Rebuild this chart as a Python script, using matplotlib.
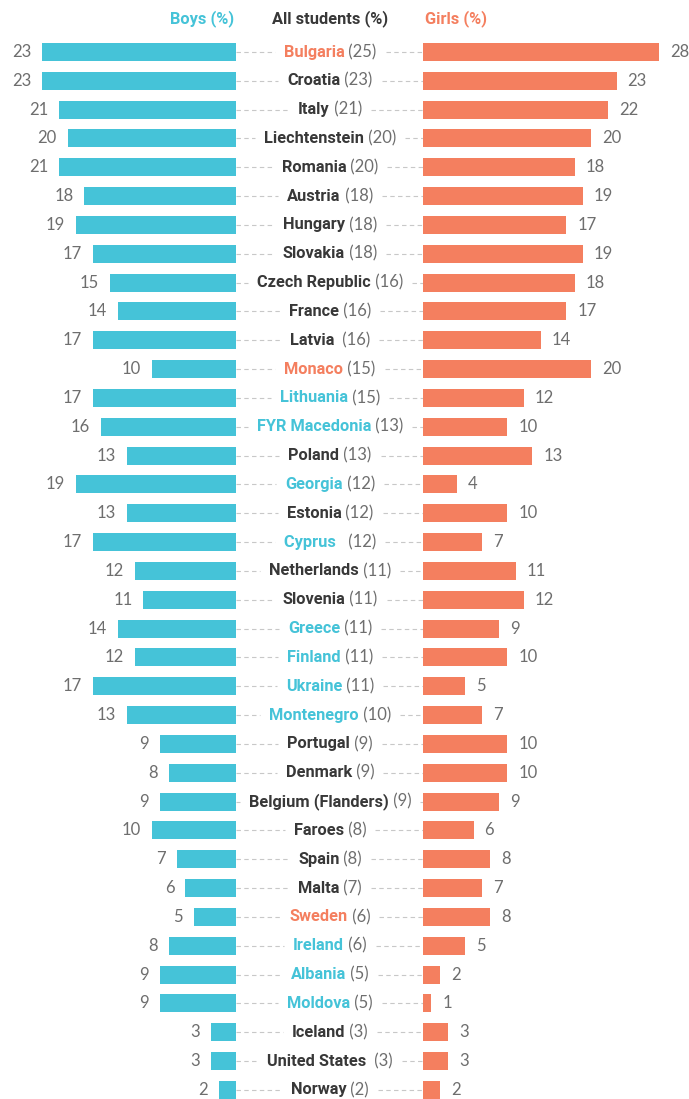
import matplotlib
matplotlib.use("Agg")
import matplotlib.pyplot as plt

countries = ["Bulgaria", "Croatia", "Italy", "Liechtenstein", "Romania", "Austria",
             "Hungary", "Slovakia", "Czech Republic", "France", "Latvia ", "Monaco",
             "Lithuania", "FYR Macedonia", "Poland", "Georgia", "Estonia", "Cyprus  ",
             "Netherlands", "Slovenia", "Greece", "Finland", "Ukraine", "Montenegro",
             "Portugal", "Denmark", "Belgium (Flanders)", "Faroes", "Spain", "Malta",
             "Sweden", "Ireland", "Albania", "Moldova", "Iceland", "United States ",
             "Norway"]
all_students = [25, 23, 21, 20, 20, 18, 18, 18, 16, 16, 16, 15, 15, 13, 13, 12, 12, 12,
                11, 11, 11, 11, 11, 10, 9, 9, 9, 8, 8, 7, 6, 6, 5, 5, 3, 3, 2]
boys = [23, 23, 21, 20, 21, 18, 19, 17, 15, 14, 17, 10, 17, 16, 13, 19, 13, 17,
        12, 11, 14, 12, 17, 13, 9, 8, 9, 10, 7, 6, 5, 8, 9, 9, 3, 3, 2]
girls = [28, 23, 22, 20, 18, 19, 17, 19, 18, 17, 14, 20, 12, 10, 13, 4, 10, 7,
         11, 12, 9, 10, 5, 7, 10, 10, 9, 6, 8, 7, 8, 5, 2, 1, 3, 3, 2]
# "g" = girls notably higher, "b" = boys notably higher, "" = neutral
highlight = ["g", "", "", "", "", "", "", "", "", "", "", "g",
             "b", "b", "", "b", "", "b", "", "", "b", "b", "b", "b",
             "", "", "", "", "", "", "g", "b", "b", "b", "", "", ""]

CYAN = "#45c3d8"
ORANGE = "#f47f5f"
DARK = "#383838"
GREY = "#6e6e6e"
DASH = "#c8c8c8"
name_color = {"g": ORANGE, "b": CYAN, "": DARK}

W, H, DPI = 689, 1099, 100
PX = 8.42            # pixels per percentage point
LEFT_EDGE = 236      # right edge of the boys bars
RIGHT_EDGE = 423     # left edge of the girls bars
TOP_ROW = 52         # centre of the first row (px from top)
STEP = 28.83         # row spacing (px)
BAR_H = 18 / STEP

fig = plt.figure(figsize=(W / DPI, H / DPI), dpi=DPI)
fig.patch.set_facecolor("white")

ax_top = TOP_ROW - STEP / 2
y_bottom = (H - TOP_ROW) / STEP
height = (H - ax_top) / H

ax_b = fig.add_axes([0, 0, LEFT_EDGE / W, height])
ax_m = fig.add_axes([LEFT_EDGE / W, 0, (RIGHT_EDGE - LEFT_EDGE) / W, height])
ax_g = fig.add_axes([RIGHT_EDGE / W, 0, (W - RIGHT_EDGE) / W, height])

rows = list(range(len(countries)))
for ax in (ax_b, ax_m, ax_g):
    ax.set_ylim(y_bottom, -0.5)
    ax.axis("off")

ax_b.set_xlim(LEFT_EDGE / PX, 0)
ax_g.set_xlim(0, (W - RIGHT_EDGE) / PX)
ax_m.set_xlim(0, RIGHT_EDGE - LEFT_EDGE)

ax_b.barh(rows, boys, height=BAR_H, color=CYAN, clip_on=False)
ax_g.barh(rows, girls, height=BAR_H, color=ORANGE, clip_on=False)

num_font = dict(family="Lato", fontsize=12, color=GREY, va="center")
for i, (b, g) in enumerate(zip(boys, girls)):
    ax_b.text(b + 11 / PX, i, f"{b}", ha="right", **num_font)
    ax_g.text(g + 11 / PX, i, f"{g}", ha="left", clip_on=False, **num_font)

# centre labels: bold country name followed by the overall share
renderer = fig.canvas.get_renderer()
CENTER = 330 - LEFT_EDGE
GAP = 9
for i, (name, tot, hl) in enumerate(zip(countries, all_students, highlight)):
    t1 = ax_m.text(0, i, name, fontsize=11.8, fontweight="bold", family="Roboto",
                   color=name_color[hl], va="center", ha="left")
    t2 = ax_m.text(0, i, f" ({tot})", fontsize=12, family="Lato",
                   color=GREY, va="center", ha="left")
    w1 = t1.get_window_extent(renderer).width
    w2 = t2.get_window_extent(renderer).width
    total = w1 + w2
    x0 = CENTER - total / 2
    t1.set_x(x0)
    t2.set_x(x0 + w1)
    if x0 - GAP > 2:
        ax_m.plot([0, x0 - GAP], [i, i], color=DASH, lw=0.8, ls=(0, (4, 3)))
    if x0 + total + GAP < RIGHT_EDGE - LEFT_EDGE - 2:
        ax_m.plot([x0 + total + GAP, RIGHT_EDGE - LEFT_EDGE], [i, i], color=DASH,
                  lw=0.8, ls=(0, (4, 3)))

head_y = 1 - 19 / H
head_font = dict(va="center", fontsize=11.8, fontweight="bold", family="Roboto")
fig.text(234 / W, head_y, "Boys (%)", ha="right", color=CYAN, **head_font)
fig.text(330 / W, head_y, "All students (%)", ha="center", color=DARK, **head_font)
fig.text(425 / W, head_y, "Girls (%)", ha="left", color=ORANGE, **head_font)

fig.savefig("out.png", dpi=DPI, facecolor="white")
